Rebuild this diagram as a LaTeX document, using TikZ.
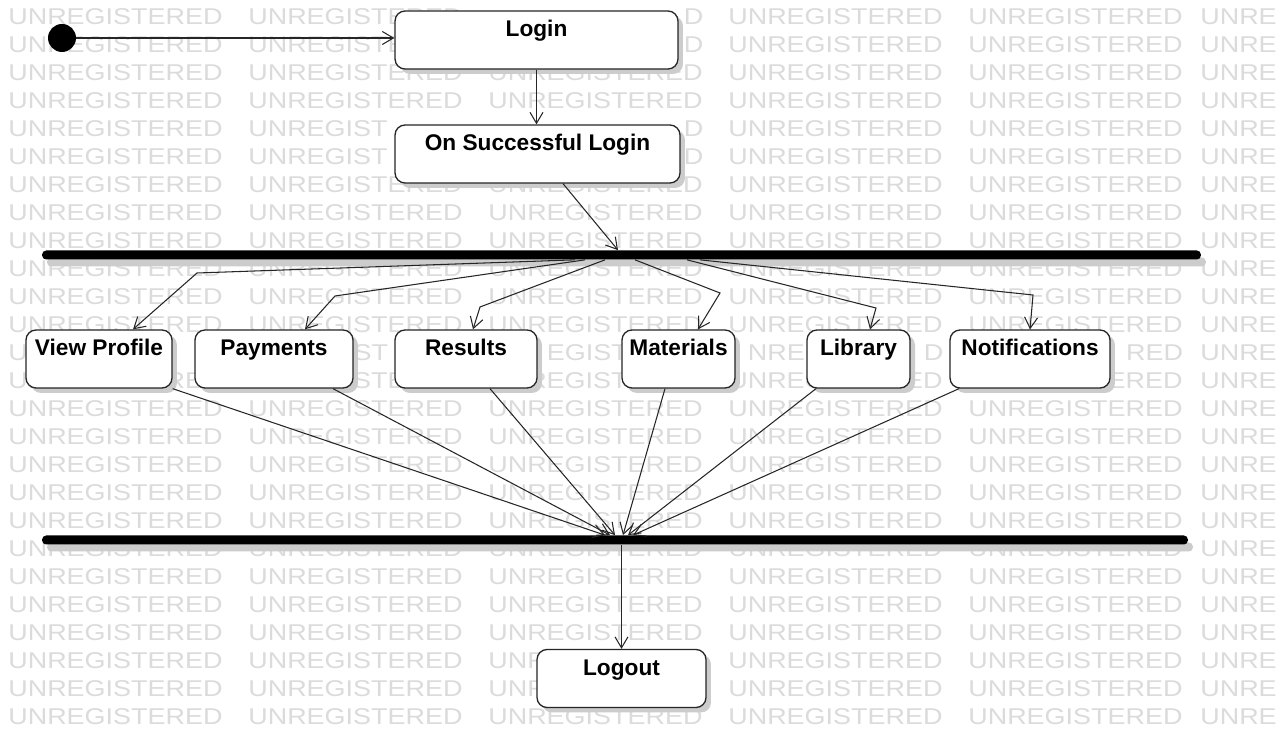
\documentclass[tikz,border=0pt]{standalone}
\usepackage{fontspec}
\setmainfont{Liberation Sans}
\newfontfamily\wmfont[FakeStretch=1.18]{Liberation Sans}
\usetikzlibrary{arrows.meta,shadows,calc}
\begin{document}
\begin{tikzpicture}[x=0.02cm,y=-0.02cm,
  statebox/.style={draw=black!85, line width=0.75pt, fill=white, rounded corners=0.2cm,
    inner xsep=0pt, inner ysep=0pt, text height=0.52cm, text depth=0.64cm,
    font=\fontsize{12.9}{15}\selectfont\bfseries,
    drop shadow={shadow xshift=0.1cm, shadow yshift=-0.1cm, fill=black!20, opacity=1}},
  bar/.style={fill=black, draw=none, inner sep=0pt, minimum height=0.18cm, rounded corners=0.08cm,
    drop shadow={shadow xshift=0.1cm, shadow yshift=-0.14cm, fill=black!20, opacity=1}},
  flow/.style={draw=black!85, line width=0.6pt, -{Straight Barb[length=0.22cm,width=0.26cm]}},
  wm/.style={text=black!14, font=\wmfont\fontsize{13}{13}\selectfont, anchor=west, inner sep=0pt}
]
\useasboundingbox (0,0) rectangle (1281,742);
\fill[white] (0,0) rectangle (1281,742);
% watermark
\foreach \r in {0,...,25}{
  \foreach \c in {0,...,4}{
    \pgfmathtruncatemacro\wmskip{((\r==0 || \r==1 || \r==4 || \r==5 || \r==23) && \c==2) || ((\r==4 || \r==5) && \c==1) || \r==12}
    \ifnum\wmskip=0
      \node[wm] (wm-\r-\c) at ({8+240*\c},{17+28*\r}) {UNREGISTERED};
    \fi
  }
  \node[wm] (wm-\r-5) at (1200,{17+28*\r}) {UNRE};
}
% watermark pieces left visible around the boxes
\node[wm] (wp-0) at (683.4,17) {D};
\node[wm] (wp-1) at (683.4,45) {D};
\node[wm] (wp-2) at (248,129) {UNREGIST};
\node[wm] (wp-3) at (683.4,129) {D};
\node[wm] (wp-4) at (248,157) {UNREGIST};
\node[wm] (wp-5) at (683.4,157) {D};
\node[wm] (wp-6) at (8,353) {U};
\node[wm] (wp-7) at (353.2,353) {ST};
\node[wm] (wp-8) at (546.6,353) {EGIST};
\node[wm] (wp-9) at (747.5,353) {NRE};
\node[wm] (wp-10) at (923.4,353) {D};
\node[wm] (wp-11) at (1125.8,353) {RED};
\node[wm] (wp-12) at (488,661) {UNR};

% nodes
\node[circle, fill=black, minimum size=0.56cm, inner sep=0pt] (init) at (62,38) {};
\node[statebox, minimum width=5.66cm] (login) at (536.5,40) {Login};
\node[statebox, minimum width=5.7cm] (osl) at (537.5,154) {On Successful Login};
\node[bar, minimum width=23.18cm] (fork1) at (621.5,255) {};

\node[statebox, minimum width=2.92cm] (vp) at (99,359) {View Profile};
\node[statebox, minimum width=3.16cm] (pay) at (274,359) {Payments};
\node[statebox, minimum width=2.84cm] (res) at (466,359) {Results};
\node[statebox, minimum width=2.26cm] (mat) at (678.5,359) {Materials};
\node[statebox, minimum width=2.06cm] (lib) at (858.5,359) {Library};
\node[statebox, minimum width=3.2cm] (notif) at (1030,359) {Notifications};

\node[bar, minimum width=22.92cm] (fork2) at (615,540) {};
\node[statebox, minimum width=3.38cm] (logout) at (621.5,678.5) {Logout};

% bend points
\coordinate (bvp) at (197,273);
\coordinate (bpay) at (335,296);
\coordinate (bres) at (480,307);
\coordinate (bmat) at (720,293);
\coordinate (blib) at (876,308);
\coordinate (bnot) at (1033,295);

% connectors
\draw[flow] (init.east) -- (init.east -| login.west);
\draw[flow] (login.south) -- (login.south |- osl.north);
\draw[flow] ([xshift=0.51cm]osl.south) -- ([xshift=-0.07cm]fork1.north);

\draw[flow] ([xshift=-0.93cm]fork1.south) -- (bvp) -- ([xshift=0.68cm]vp.north);
\draw[flow] ([xshift=-0.73cm]fork1.south) -- (bpay) -- ([xshift=0.62cm]pay.north);
\draw[flow] ([xshift=-0.33cm]fork1.south) -- (bres) -- ([xshift=0.14cm]res.north);
\draw[flow] ([xshift=0.27cm]fork1.south) -- (bmat) -- ([xshift=0.39cm]mat.north);
\draw[flow] ([xshift=1.31cm]fork1.south) -- (blib) -- ([xshift=0.23cm]lib.north);
\draw[flow] ([xshift=1.57cm]fork1.south) -- (bnot) -- (notif.north);

\draw[flow] (vp.south east) -- ([xshift=-0.2cm]fork2.north);
\draw[flow] ([xshift=1.18cm]pay.south) -- ([xshift=-0.1cm]fork2.north);
\draw[flow] ([xshift=0.48cm]res.south) -- (fork2.north);
\draw[flow] ([xshift=-0.27cm]mat.south) -- ([xshift=0.16cm]fork2.north);
\draw[flow] ([xshift=-0.85cm]lib.south) -- ([xshift=0.26cm]fork2.north);
\draw[flow] ([xshift=-1.42cm]notif.south) -- ([xshift=0.36cm]fork2.north);

\draw[flow] (fork2.south -| logout.north) -- (logout.north);
\end{tikzpicture}
\end{document}
